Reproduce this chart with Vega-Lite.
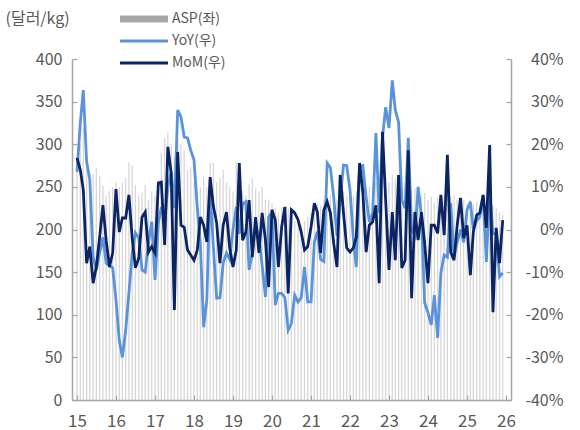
{
"$schema":"https://vega.github.io/schema/vega-lite/v6.json",
"width":439,"height":341,
"autosize":{"type":"none"},
"padding":{"left":72,"top":59,"right":69,"bottom":30},
"background":"white",
"config":{"view":{"stroke":null},"font":"Noto Sans CJK KR",
 "axis":{"grid":false,"domainColor":"#a6a6a6","domainWidth":1.5,"tickColor":"#a6a6a6","tickWidth":1.2,"labelColor":"#595959","labelFontSize":16}},
"data":{"values":[
{"d":"2015/01/01","asp":275,"yoy":13.5,"mom":16.8},
{"d":"2015/02/01","asp":300,"yoy":25,"mom":14},
{"d":"2015/03/01","asp":320,"yoy":32.7,"mom":9.3},
{"d":"2015/04/01","asp":279,"yoy":16,"mom":-7.9},
{"d":"2015/05/01","asp":267,"yoy":11.6,"mom":-4},
{"d":"2015/06/01","asp":265,"yoy":-6.5,"mom":-12.6},
{"d":"2015/07/01","asp":272,"yoy":-9.5,"mom":-8.8},
{"d":"2015/08/01","asp":263,"yoy":-5.5,"mom":-1.8},
{"d":"2015/09/01","asp":251,"yoy":-1.8,"mom":5.7},
{"d":"2015/10/01","asp":240,"yoy":-7.9,"mom":-2.5},
{"d":"2015/11/01","asp":245,"yoy":-8.5,"mom":-8.8},
{"d":"2015/12/01","asp":250,"yoy":-9,"mom":-5.5},
{"d":"2016/01/01","asp":255,"yoy":-16.5,"mom":9.5},
{"d":"2016/02/01","asp":250,"yoy":-26,"mom":-0.6},
{"d":"2016/03/01","asp":255,"yoy":-30,"mom":2.7},
{"d":"2016/04/01","asp":260,"yoy":-23.6,"mom":2.7},
{"d":"2016/05/01","asp":279,"yoy":-15,"mom":8.1},
{"d":"2016/06/01","asp":275,"yoy":-5.5,"mom":-2},
{"d":"2016/07/01","asp":252,"yoy":-0.8,"mom":-9},
{"d":"2016/08/01","asp":240,"yoy":-2,"mom":-6.7},
{"d":"2016/09/01","asp":243,"yoy":-9.5,"mom":2.9},
{"d":"2016/10/01","asp":252,"yoy":-10,"mom":4.1},
{"d":"2016/11/01","asp":235,"yoy":-3,"mom":-5.3},
{"d":"2016/12/01","asp":245,"yoy":1.8,"mom":-4},
{"d":"2017/01/01","asp":240,"yoy":-11.8,"mom":-5.5},
{"d":"2017/02/01","asp":258,"yoy":1.5,"mom":10.9},
{"d":"2017/03/01","asp":290,"yoy":5.3,"mom":11.1},
{"d":"2017/04/01","asp":307,"yoy":2,"mom":-3.6},
{"d":"2017/05/01","asp":314,"yoy":10,"mom":19.4},
{"d":"2017/06/01","asp":300,"yoy":13.5,"mom":13.3},
{"d":"2017/07/01","asp":285,"yoy":5,"mom":-18.9},
{"d":"2017/08/01","asp":305,"yoy":28,"mom":18.2},
{"d":"2017/09/01","asp":300,"yoy":26.4,"mom":1},
{"d":"2017/10/01","asp":293,"yoy":21.7,"mom":0.5},
{"d":"2017/11/01","asp":270,"yoy":21.5,"mom":-4.8},
{"d":"2017/12/01","asp":273,"yoy":18.6,"mom":-6},
{"d":"2018/01/01","asp":255,"yoy":16.3,"mom":-7.2},
{"d":"2018/02/01","asp":246,"yoy":5,"mom":-4.8},
{"d":"2018/03/01","asp":250,"yoy":-3,"mom":2.9},
{"d":"2018/04/01","asp":262,"yoy":-22.9,"mom":1},
{"d":"2018/05/01","asp":250,"yoy":-16.5,"mom":-2.9},
{"d":"2018/06/01","asp":278,"yoy":9.3,"mom":12.3},
{"d":"2018/07/01","asp":278,"yoy":-4,"mom":5.5},
{"d":"2018/08/01","asp":255,"yoy":-16.1,"mom":1.5},
{"d":"2018/09/01","asp":260,"yoy":-16,"mom":-7.9},
{"d":"2018/10/01","asp":270,"yoy":-7.9,"mom":1},
{"d":"2018/11/01","asp":255,"yoy":-5.5,"mom":4.1},
{"d":"2018/12/01","asp":250,"yoy":-7,"mom":-4.3},
{"d":"2019/01/01","asp":245,"yoy":0,"mom":-8.8},
{"d":"2019/02/01","asp":279,"yoy":5.3,"mom":-4.8},
{"d":"2019/03/01","asp":240,"yoy":-1,"mom":15.6},
{"d":"2019/04/01","asp":245,"yoy":6,"mom":-2.5},
{"d":"2019/05/01","asp":240,"yoy":6.5,"mom":-0.6},
{"d":"2019/06/01","asp":254,"yoy":-9.5,"mom":6.9},
{"d":"2019/07/01","asp":260,"yoy":-5.5,"mom":-6.5},
{"d":"2019/08/01","asp":248,"yoy":1,"mom":2.9},
{"d":"2019/09/01","asp":245,"yoy":-1.5,"mom":-5.5},
{"d":"2019/10/01","asp":250,"yoy":-8.5,"mom":3.9},
{"d":"2019/11/01","asp":235,"yoy":-15.8,"mom":-2.5},
{"d":"2019/12/01","asp":235,"yoy":3,"mom":-13.5},
{"d":"2020/01/01","asp":231,"yoy":4,"mom":4.6},
{"d":"2020/02/01","asp":225,"yoy":-17.7,"mom":2.3},
{"d":"2020/03/01","asp":220,"yoy":-15,"mom":-8.8},
{"d":"2020/04/01","asp":226,"yoy":-15,"mom":0.6},
{"d":"2020/05/01","asp":222,"yoy":-16,"mom":5.3},
{"d":"2020/06/01","asp":225,"yoy":-23.6,"mom":-15},
{"d":"2020/07/01","asp":220,"yoy":-22,"mom":4.6},
{"d":"2020/08/01","asp":210,"yoy":-15.4,"mom":3.9},
{"d":"2020/09/01","asp":215,"yoy":-17,"mom":2.3},
{"d":"2020/10/01","asp":205,"yoy":-16,"mom":-0.6},
{"d":"2020/11/01","asp":210,"yoy":-8.8,"mom":-4.8},
{"d":"2020/12/01","asp":215,"yoy":-17,"mom":-4},
{"d":"2021/01/01","asp":220,"yoy":-17,"mom":0.6},
{"d":"2021/02/01","asp":225,"yoy":-3,"mom":6.2},
{"d":"2021/03/01","asp":230,"yoy":-0.5,"mom":4.1},
{"d":"2021/04/01","asp":228,"yoy":-7,"mom":-5.5},
{"d":"2021/05/01","asp":235,"yoy":-7.5,"mom":4.6},
{"d":"2021/06/01","asp":232,"yoy":15.6,"mom":6.5},
{"d":"2021/07/01","asp":240,"yoy":14.5,"mom":3.9},
{"d":"2021/08/01","asp":238,"yoy":7.7,"mom":-3.2},
{"d":"2021/09/01","asp":235,"yoy":-1.5,"mom":-8.8},
{"d":"2021/10/01","asp":240,"yoy":7,"mom":12.8},
{"d":"2021/11/01","asp":245,"yoy":15.1,"mom":3.9},
{"d":"2021/12/01","asp":240,"yoy":15,"mom":-4.3},
{"d":"2022/01/01","asp":237,"yoy":9.3,"mom":-5.3},
{"d":"2022/02/01","asp":240,"yoy":-2,"mom":-4.3},
{"d":"2022/03/01","asp":245,"yoy":-8.8,"mom":-1.8},
{"d":"2022/04/01","asp":238,"yoy":14.7,"mom":15.6},
{"d":"2022/05/01","asp":242,"yoy":15,"mom":8.8},
{"d":"2022/06/01","asp":248,"yoy":7.5,"mom":-5.3},
{"d":"2022/07/01","asp":250,"yoy":1.8,"mom":1},
{"d":"2022/08/01","asp":245,"yoy":3.9,"mom":1.8},
{"d":"2022/09/01","asp":255,"yoy":22.6,"mom":5.7},
{"d":"2022/10/01","asp":250,"yoy":3.9,"mom":-12.6},
{"d":"2022/11/01","asp":258,"yoy":21.5,"mom":22.9},
{"d":"2022/12/01","asp":262,"yoy":28.7,"mom":6.9},
{"d":"2023/01/01","asp":255,"yoy":23.8,"mom":-9.5},
{"d":"2023/02/01","asp":264,"yoy":35,"mom":4.1},
{"d":"2023/03/01","asp":260,"yoy":28,"mom":-7.2},
{"d":"2023/04/01","asp":258,"yoy":25.2,"mom":12.8},
{"d":"2023/05/01","asp":250,"yoy":6.9,"mom":-9},
{"d":"2023/06/01","asp":254,"yoy":5,"mom":-7.2},
{"d":"2023/07/01","asp":250,"yoy":21.5,"mom":18.6},
{"d":"2023/08/01","asp":245,"yoy":0,"mom":-16.1},
{"d":"2023/09/01","asp":248,"yoy":-1.5,"mom":4.1},
{"d":"2023/10/01","asp":243,"yoy":10,"mom":-2.5},
{"d":"2023/11/01","asp":240,"yoy":3,"mom":4.1},
{"d":"2023/12/01","asp":243,"yoy":-17.2,"mom":-3.2},
{"d":"2024/01/01","asp":235,"yoy":-19.5,"mom":-12.6},
{"d":"2024/02/01","asp":238,"yoy":-22.4,"mom":1},
{"d":"2024/03/01","asp":232,"yoy":-15.4,"mom":1},
{"d":"2024/04/01","asp":238,"yoy":-25.4,"mom":-0.9},
{"d":"2024/05/01","asp":235,"yoy":-10.2,"mom":8.1},
{"d":"2024/06/01","asp":240,"yoy":-6,"mom":-1.3},
{"d":"2024/07/01","asp":243,"yoy":-6.5,"mom":17.5},
{"d":"2024/08/01","asp":238,"yoy":6.2,"mom":-5.3},
{"d":"2024/09/01","asp":240,"yoy":-6.5,"mom":-7.2},
{"d":"2024/10/01","asp":235,"yoy":-3,"mom":1},
{"d":"2024/11/01","asp":232,"yoy":0,"mom":7.4},
{"d":"2024/12/01","asp":235,"yoy":-3,"mom":-2},
{"d":"2025/01/01","asp":230,"yoy":4.6,"mom":1},
{"d":"2025/02/01","asp":235,"yoy":6.5,"mom":-10.7},
{"d":"2025/03/01","asp":230,"yoy":0,"mom":-0.6},
{"d":"2025/04/01","asp":232,"yoy":2,"mom":3.4},
{"d":"2025/05/01","asp":228,"yoy":3,"mom":3.9},
{"d":"2025/06/01","asp":226,"yoy":8.1,"mom":8.1},
{"d":"2025/07/01","asp":230,"yoy":-7.6,"mom":0.4},
{"d":"2025/08/01","asp":231,"yoy":9.3,"mom":19.8},
{"d":"2025/09/01","asp":228,"yoy":-1,"mom":-19.4},
{"d":"2025/10/01","asp":225,"yoy":-1,"mom":0.4},
{"d":"2025/11/01","asp":220,"yoy":-11.1,"mom":-7.9},
{"d":"2025/12/01","asp":217,"yoy":-10.2,"mom":2.2}
]},
"encoding":{"x":{"field":"d","type":"temporal",
 "scale":{"domain":[{"year":2015,"month":1,"date":1},{"year":2026,"month":1,"date":1}]},
 "axis":{"title":null,"format":"%y","values":[{"year":2015,"month":1,"date":1},{"year":2016,"month":1,"date":1},{"year":2017,"month":1,"date":1},{"year":2018,"month":1,"date":1},{"year":2019,"month":1,"date":1},{"year":2020,"month":1,"date":1},{"year":2021,"month":1,"date":1},{"year":2022,"month":1,"date":1},{"year":2023,"month":1,"date":1},{"year":2024,"month":1,"date":1},{"year":2025,"month":1,"date":1},{"year":2026,"month":1,"date":1}],
  "tickSize":-5,"labelPadding":18,"labelFontSize":17,"labelFlush":false,"labelOverlap":false}}},
"layer":[
 {"mark":{"type":"bar","size":1.3,"opacity":0.45},
  "encoding":{
   "y":{"field":"asp","type":"quantitative","scale":{"domain":[0,400]},
    "axis":{"orient":"left","values":[0,50,100,150,200,250,300,350,400],"tickSize":-5,"labelPadding":15,
     "title":"(달러/kg)","titleAngle":0,"titleX":-67,"titleY":-41,"titleAlign":"left","titleBaseline":"middle","titleFontSize":16,"titleFontWeight":"normal","titleColor":"#595959"}},
   "color":{"datum":"ASP(좌)","type":"nominal",
    "scale":{"domain":["ASP(좌)","YoY(우)","MoM(우)"],"range":["#a6a6a6","#5a93d9","#0b2463"]},
    "legend":{"orient":"none","legendX":62,"legendY":-50,"title":null,"padding":0,"direction":"vertical",
     "symbolType":"M-2.4,-0.15H2.4V0.15H-2.4Z","symbolSize":400,"rowPadding":5,"labelFontSize":14,"labelColor":"#595959","labelOffset":18,"symbolOpacity":1,
     "encode":{"symbols":{"update":{
       "shape":{"signal":"datum.value === 'ASP(좌)' ? 'M-2.4,-0.35H2.4V0.35H-2.4Z' : 'M-2.4,-0.15H2.4V0.15H-2.4Z'"},
       "fill":{"scale":"color","field":"value"},"stroke":{"value":"transparent"},"strokeWidth":{"value":0},"opacity":{"value":1},"size":{"value":400}}}}}}}},
 {"mark":{"type":"line","strokeWidth":2.8},
  "encoding":{
   "y":{"field":"yoy","type":"quantitative","scale":{"domain":[-40,40]},
    "axis":{"orient":"right","title":null,"values":[-40,-30,-20,-10,0,10,20,30,40],"labelExpr":"datum.value + '%'","tickSize":-5,"labelAlign":"right","labelPadding":57}},
   "color":{"datum":"YoY(우)","type":"nominal"}}},
 {"mark":{"type":"line","strokeWidth":2.8},
  "encoding":{
   "y":{"field":"mom","type":"quantitative","scale":{"domain":[-40,40]},"axis":null},
   "color":{"datum":"MoM(우)","type":"nominal"}}}
],
"resolve":{"scale":{"y":"independent"}}
}
